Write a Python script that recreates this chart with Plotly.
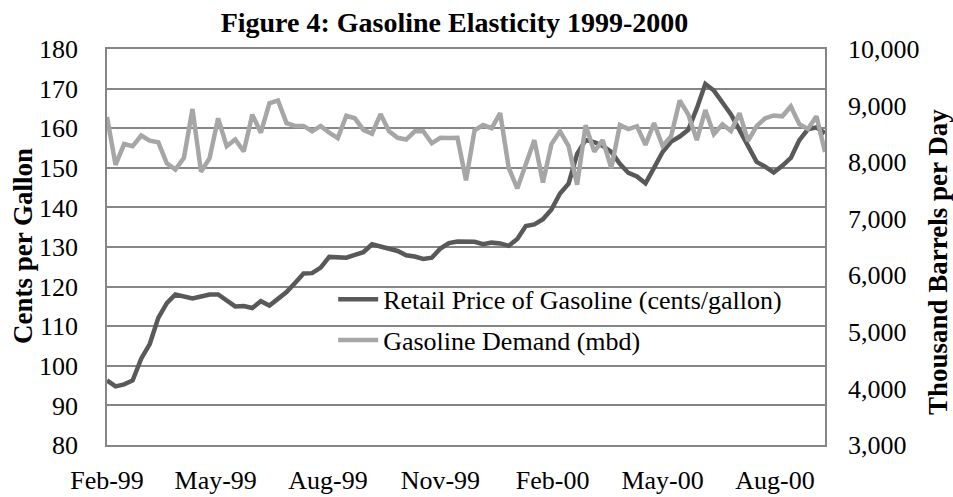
import pandas as pd
import plotly.graph_objects as go

# Weekly observations starting Feb 1, 1999
start_date = "1999-02-01"
n_weeks = 85
dates = pd.date_range(start=start_date, periods=n_weeks, freq="7D")

# Retail price of gasoline (cents/gallon)
price = [96.3, 94.8, 95.3, 96.3, 101.8, 105.5, 112.1, 115.8, 118.0, 117.5,
         117.0, 117.5, 118.0, 118.0, 116.5, 115.0, 115.1, 114.6, 116.3, 115.2,
         116.9, 118.6, 120.9, 123.3, 123.4, 124.8, 127.5, 127.4, 127.3, 128.0,
         128.7, 130.7, 130.2, 129.6, 129.0, 127.9, 127.6, 127.0, 127.3, 129.6,
         131.0, 131.4, 131.3, 131.3, 130.7, 131.1, 130.9, 130.3, 132.0, 135.3,
         135.7, 137.0, 139.5, 143.5, 146.0, 153.5, 157.0, 156.5, 155.5, 154.0,
         151.0, 148.7, 147.8, 146.1, 150.0, 154.0, 156.6, 157.9, 159.6, 165.0,
         171.2, 169.5, 166.5, 163.5, 159.5, 155.5, 151.5, 150.3, 148.8, 150.5,
         152.5, 157.0, 159.7, 160.2, 158.7]

# Gasoline demand (thousand barrels per day)
demand = [8800, 7950, 8320, 8280, 8470, 8380, 8350, 7980, 7870, 8075,
          8940, 7830, 8070, 8775, 8280, 8400, 8190, 8840, 8520, 9040,
          9090, 8690, 8640, 8640, 8545, 8640, 8520, 8425, 8820, 8775,
          8570, 8500, 8850, 8545, 8430, 8400, 8545, 8545, 8335, 8430,
          8425, 8430, 7680, 8560, 8655, 8600, 8865, 7900, 7535, 7970,
          8390, 7640, 8320, 8545, 8285, 7600, 8655, 8185, 8390, 7895,
          8655, 8585, 8635, 8305, 8690, 8285, 8460, 9090, 8845, 8390,
          8920, 8495, 8670, 8550, 8865, 8375, 8635, 8775, 8825, 8810,
          8985, 8670, 8585, 8810, 8180]

title_text = "Figure 4: Gasoline Elasticity 1999-2000"
left_title = "Cents per Gallon"
right_title = "Thousand Barrels per Day"
price_name = "Retail Price of Gasoline (cents/gallon)"
demand_name = "Gasoline Demand (mbd)"

FONT = "Liberation Serif, Times New Roman, serif"
GRID = "#868686"

fig = go.Figure()
fig.add_trace(go.Scatter(x=dates, y=price, name=price_name, mode="lines",
                         line=dict(color="#595959", width=4.5), yaxis="y",
                         legendgroup="a"))
fig.add_trace(go.Scatter(x=dates, y=demand, name=demand_name, mode="lines",
                         line=dict(color="#a6a6a6", width=4.5), yaxis="y2",
                         legendgroup="b"))

fig.update_layout(
    width=953, height=497,
    margin=dict(l=107, r=128, t=49, b=52, autoexpand=False),
    paper_bgcolor="white", plot_bgcolor="white",
    font=dict(family=FONT, size=26, color="black"),
    title=dict(text="<b>" + title_text + "</b>", x=0.484, xref="paper",
               xanchor="center", y=0.955, yanchor="middle",
               font=dict(family=FONT, size=28, color="black")),
    showlegend=True,
    legend=dict(x=0.315, y=0.316, xanchor="left", yanchor="middle",
                bgcolor="rgba(0,0,0,0)", font=dict(family=FONT, size=26),
                traceorder="grouped", tracegroupgap=4, itemwidth=40),
    xaxis=dict(type="date", range=["1999-02-01", "2000-09-11"],
               tick0="1999-02-01", dtick="M3", tickformat="%b-%y",
               showgrid=False, showline=True, linecolor=GRID, linewidth=1.5,
               mirror=True, ticks="", ticklabelstandoff=11, automargin=False,
               tickfont=dict(family=FONT, size=26)),
    yaxis=dict(range=[80, 180], dtick=10, showgrid=True, gridcolor=GRID,
               gridwidth=1.5, showline=True, linecolor=GRID, linewidth=1.5,
               mirror=True, zeroline=False, ticks="", ticklabelstandoff=22,
               automargin=False, tickfont=dict(family=FONT, size=26)),
    yaxis2=dict(range=[3000, 10000], dtick=1000, overlaying="y", side="right",
                showgrid=False, zeroline=False, tickformat=",d", ticks="",
                ticklabelstandoff=22, automargin=False,
                tickfont=dict(family=FONT, size=26)),
    annotations=[
        dict(text="<b>" + left_title + "</b>", xref="paper", yref="paper",
             x=-0.117, y=0.5025, textangle=-90, showarrow=False,
             xanchor="center", yanchor="middle",
             font=dict(family=FONT, size=27, color="black")),
        dict(text="<b>" + right_title + "</b>", xref="paper", yref="paper",
             x=1.1574, y=0.462, textangle=-90, showarrow=False,
             xanchor="center", yanchor="middle",
             font=dict(family=FONT, size=27, color="black")),
    ],
)

fig.write_html(
    "out.html",
    config={"displayModeBar": False},
    post_script="document.body.style.margin='0';document.body.style.overflow='hidden';",
)
